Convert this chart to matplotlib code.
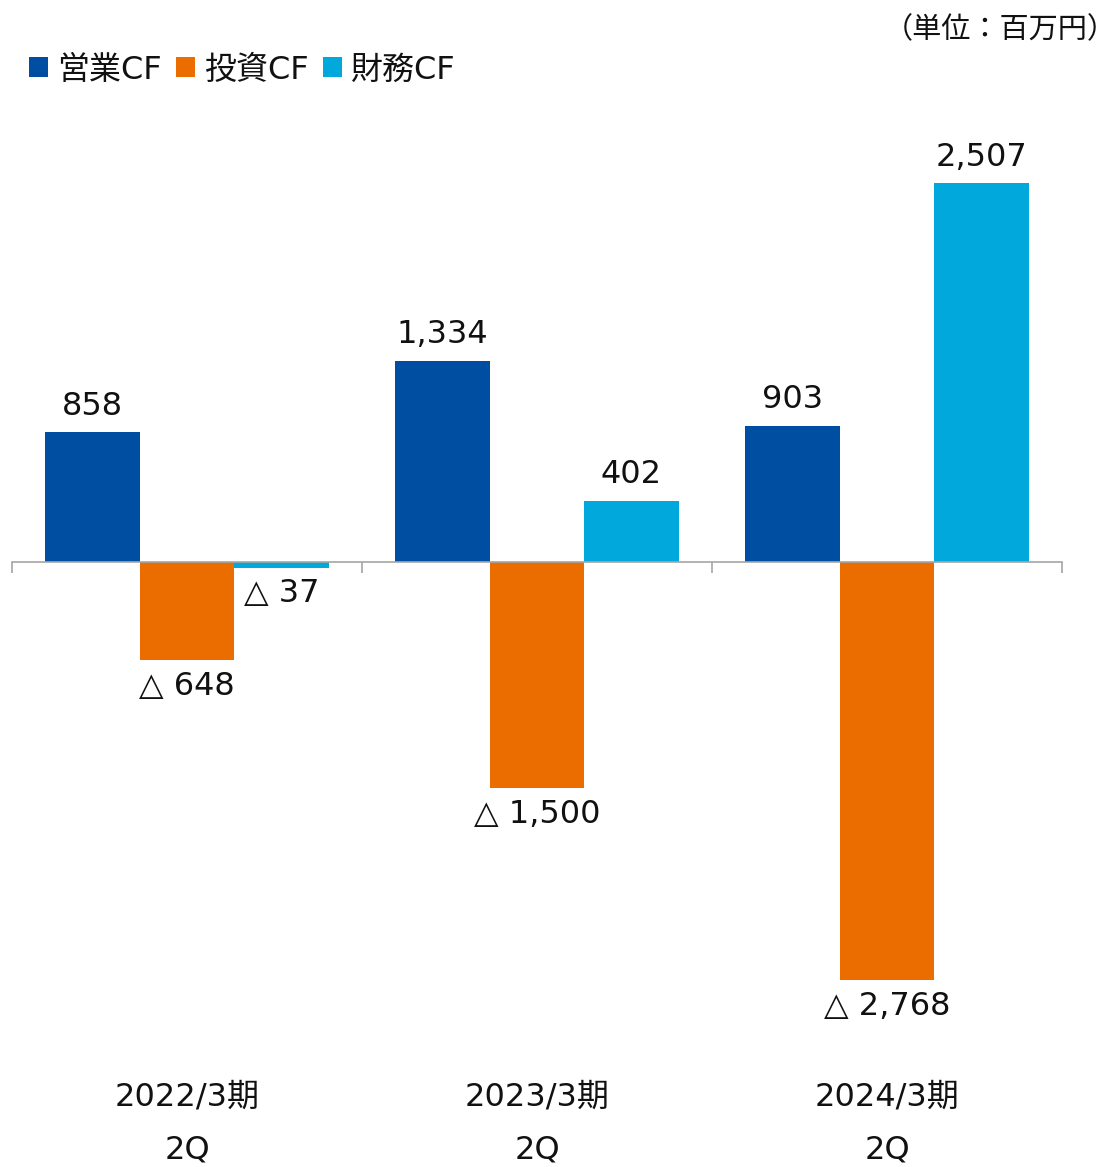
import matplotlib
matplotlib.use("Agg")
import matplotlib.pyplot as plt
import matplotlib.transforms as mtransforms
from matplotlib.patches import Patch
import numpy as np

plt.rcParams['font.family'] = ['DejaVu Sans', 'Noto Sans CJK JP']

periods = ['2022/3期', '2023/3期', '2024/3期']
sub_labels = ['2Q', '2Q', '2Q']
series_names = ['営業CF', '投資CF', '財務CF']
operating_cf = [858, 1334, 903]
investing_cf = [-648, -1500, -2768]
financing_cf = [-37, 402, 2507]
colors = ['#004EA2', '#EB6D00', '#00A8DC']

fig = plt.figure(figsize=(11.18, 11.67), dpi=100)
ax = fig.add_axes([12 / 1118, 127 / 1167, 1050 / 1118, 920 / 1167])

x = np.arange(len(periods))
width = 0.27
all_series = [operating_cf, investing_cf, financing_cf]

for i, (vals, col) in enumerate(zip(all_series, colors)):
    pos = x + (i - 1) * width
    ax.bar(pos, vals, width=width, color=col, zorder=2)
    for px, v in zip(pos, vals):
        if v >= 0:
            txt = f"{v:,}"
            off = 19
        else:
            txt = f"△ {abs(v):,}"
            off = -19
        ax.annotate(txt, (px, v), xytext=(0, off), textcoords='offset points',
                    ha='center', va='center', fontsize=23, color='#111111')

ax.set_xlim(-0.5, 2.5)
ax.set_ylim(-3166, 2927)

for s in ['top', 'right', 'left']:
    ax.spines[s].set_visible(False)
ax.spines['bottom'].set_position(('data', 0))
ax.spines['bottom'].set_color('#a6a6a6')
ax.spines['bottom'].set_linewidth(1.2)
ax.spines['bottom'].set_zorder(3)
ax.set_yticks([])
ax.set_xticks([-0.5, 0.5, 1.5, 2.5])
ax.set_xticklabels([])
ax.tick_params(axis='x', length=8, width=1.2, color='#a6a6a6', direction='out')

# category labels under the plot, two lines each
trans = mtransforms.blended_transform_factory(ax.transData, fig.transFigure)
for xi, p, s in zip(x, periods, sub_labels):
    ax.text(xi, 1 - 1097 / 1167, p, transform=trans, ha='center', va='center',
            fontsize=23, color='#111111')
    ax.text(xi, 1 - 1150 / 1167, s, transform=trans, ha='center', va='center',
            fontsize=23, color='#111111')

handles = [Patch(facecolor=c, edgecolor='none') for c in colors]
fig.legend(handles, series_names, loc='center left', bbox_to_anchor=(29 / 1118, 1 - 70 / 1167),
           ncol=3, frameon=False, fontsize=23, handlelength=0.58, handleheight=0.58,
           handletextpad=0.3, columnspacing=0.45, borderaxespad=0, borderpad=0,
           labelcolor='#111111')

fig.text(1117 / 1118, 1 - 30 / 1167, '（単位：百万円）', ha='right', va='center',
         fontsize=21, color='#111111', family=['Noto Sans CJK JP', 'DejaVu Sans'])

fig.savefig('out.png', dpi=100)
